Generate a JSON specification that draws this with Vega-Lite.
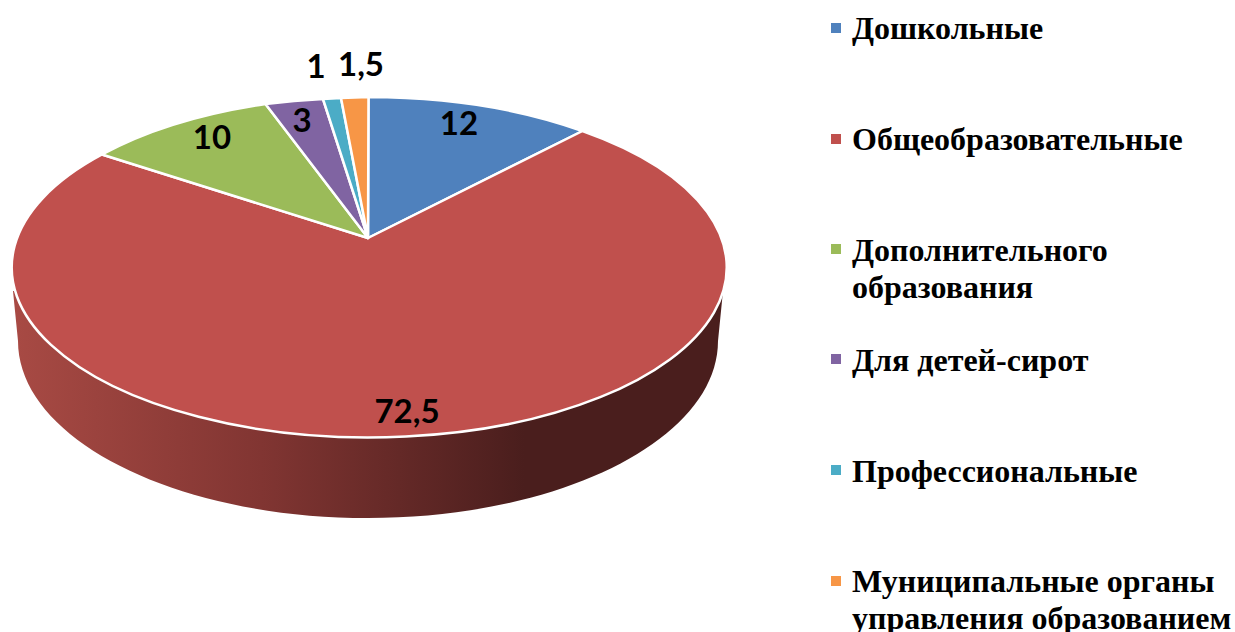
{
  "$schema": "https://vega.github.io/schema/vega-lite/v6.json",
  "width": 1235, "height": 632, "padding": 0, "autosize": {"type": "none"},
  "background": "white",
  "config": {"view": {"stroke": null}},
  "resolve": {"scale": {"x": "independent", "y": "independent"}},
  "data": {"values": [
    {"category": "Дошкольные", "value": 12, "label": "12"},
    {"category": "Общеобразовательные", "value": 72.5, "label": "72,5"},
    {"category": "Дополнительного\nобразования", "value": 10, "label": "10"},
    {"category": "Для детей-сирот", "value": 3, "label": "3"},
    {"category": "Профессиональные", "value": 1, "label": "1"},
    {"category": "Муниципальные органы\nуправления образованием", "value": 1.5, "label": "1,5"}
  ]},
  "layer": [
    {
      "transform": [{"filter": "datum.value == 72.5"}],
      "mark": {"type": "point", "filled": true, "opacity": 1, "size": 4, "strokeWidth": 0,
        "shape": "M -604.5 -25 L -599.5 25 A 350 177 0 0 0 100.5 25 L 105.5 -25 Z",
        "fill": {"gradient": "linear", "x1": 0, "x2": 1, "y1": 0, "y2": 0,
          "stops": [{"offset": 0, "color": "#A84A44"}, {"offset": 0.35, "color": "#813532"}, {"offset": 0.72, "color": "#4A1E1D"}, {"offset": 1, "color": "#4A1E1D"}]}},
      "encoding": {}
    },
    {
      "mark": {"type": "point", "filled": true, "opacity": 1, "size": 4, "stroke": "white", "strokeWidth": 2.5, "strokeJoin": "round"},
      "encoding": {
        "shape": {"field": "label", "type": "nominal", "legend": null,
          "scale": {
            "domain": ["12", "72,5", "10", "3", "1", "1,5"],
            "range": [
              "M -249.5 -78 L -249 -219 A 357.5 170 0 0 1 -35 -185 Z",
              "M -249.5 -78 L -35 -185 A 357.5 170 0 1 1 -515.5 -161.5 Z",
              "M -249.5 -78 L -515.5 -161.5 A 357.5 170 0 0 1 -352 -212 Z",
              "M -249.5 -78 L -352 -212 A 357.5 170 0 0 1 -294.5 -217 Z",
              "M -249.5 -78 L -294.5 -217 A 357.5 170 0 0 1 -276.5 -218 Z",
              "M -249.5 -78 L -276.5 -218 A 357.5 170 0 0 1 -249 -219 Z"
            ]}},
        "color": {"field": "category", "type": "nominal", "legend": null,
          "scale": {
            "domain": ["Дошкольные", "Общеобразовательные", "Дополнительного\nобразования", "Для детей-сирот", "Профессиональные", "Муниципальные органы\nуправления образованием"],
            "range": ["#4F81BD", "#C0504D", "#9BBB59", "#8064A2", "#4BACC6", "#F79646"]}}
      }
    },
    {
      "mark": {"type": "text", "font": "Lato", "fontWeight": "bold", "fontSize": 33, "color": "#000000", "align": "center", "baseline": "middle"},
      "encoding": {
        "text": {"field": "label", "type": "nominal"},
        "x": {"field": "value", "type": "quantitative", "axis": null,
          "scale": {"domain": [1, 1.5, 3, 10, 12, 72.5], "range": [316, 361, 302, 212, 459, 407], "zero": false, "nice": false}},
        "y": {"field": "value", "type": "quantitative", "axis": null,
          "scale": {"domain": [1, 1.5, 3, 10, 12, 72.5], "range": [68, 66, 122, 139, 125, 413], "zero": false, "nice": false}}
      }
    },
    {
      "mark": {"type": "point", "shape": "square", "filled": true, "opacity": 1, "size": 100, "strokeWidth": 0},
      "encoding": {
        "color": {"field": "category", "type": "nominal", "legend": null},
        "x": {"field": "value", "type": "quantitative", "axis": null,
          "scale": {"domain": [1, 72.5], "range": [836, 836], "zero": false, "nice": false}},
        "y": {"field": "value", "type": "quantitative", "axis": null,
          "scale": {"domain": [1, 1.5, 3, 10, 12, 72.5], "range": [470, 581, 359, 249, 28, 139], "zero": false, "nice": false}}
      }
    },
    {
      "mark": {"type": "text", "font": "Liberation Serif", "fontWeight": "bold", "fontSize": 32, "color": "#000000", "align": "left", "baseline": "top", "lineBreak": "\n", "lineHeight": 36.5},
      "encoding": {
        "text": {"field": "category", "type": "nominal"},
        "x": {"field": "value", "type": "quantitative", "axis": null,
          "scale": {"domain": [1, 72.5], "range": [852, 852], "zero": false, "nice": false}},
        "y": {"field": "value", "type": "quantitative", "axis": null,
          "scale": {"domain": [1, 1.5, 3, 10, 12, 72.5], "range": [457, 567, 346, 236, 14, 125], "zero": false, "nice": false}}
      }
    }
  ]
}
